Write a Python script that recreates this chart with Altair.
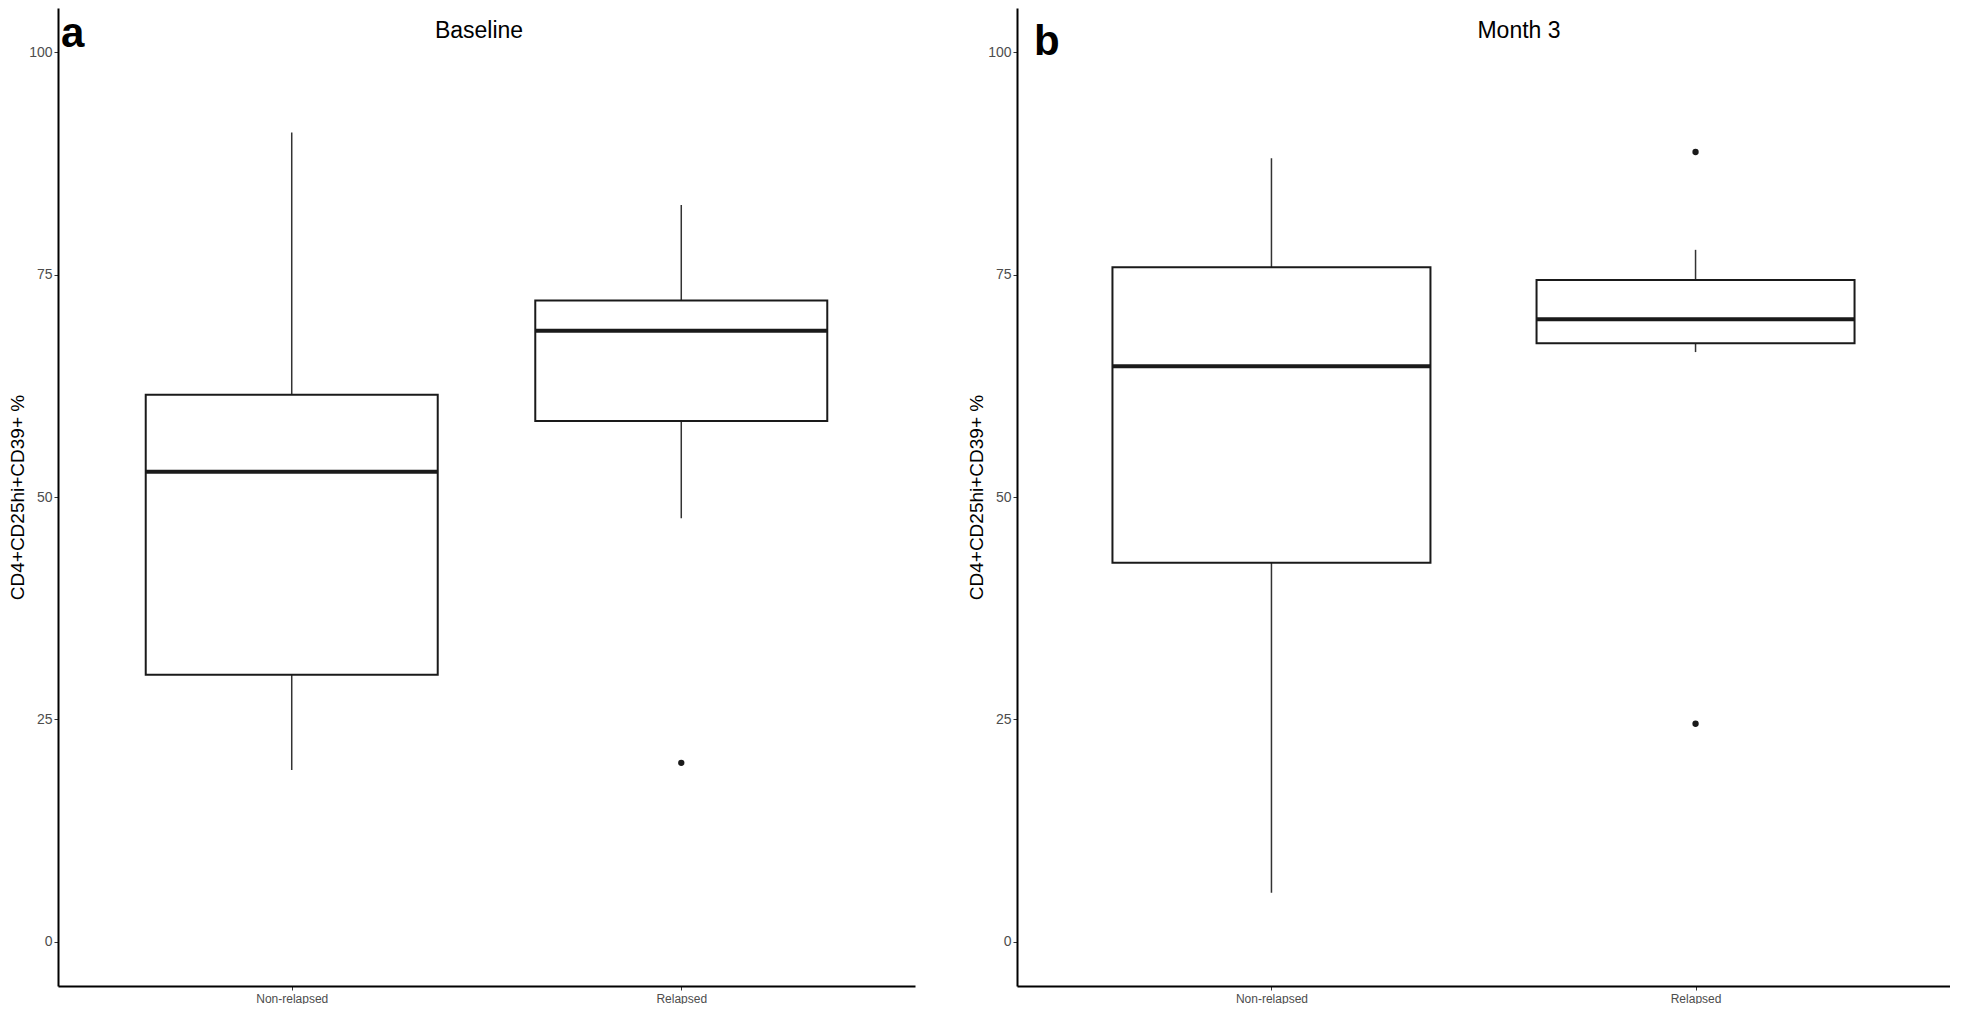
import altair as alt
import pandas as pd

groups = ["Non-relapsed", "Relapsed"]

# Baseline (panel a)
base_lo = [19.3, 47.6]
base_q1 = [30.0, 58.55]
base_med = [52.85, 68.7]
base_q3 = [61.5, 72.1]
base_hi = [91.0, 82.85]
base_out_group = ["Relapsed"]
base_out_val = [20.1]

# Month 3 (panel b)
m3_lo = [5.5, 66.3]
m3_q1 = [42.6, 67.3]
m3_med = [64.7, 70.0]
m3_q3 = [75.85, 74.4]
m3_hi = [88.1, 77.8]
m3_out_group = ["Relapsed", "Relapsed"]
m3_out_val = [88.8, 24.5]

y_ticks = [0, 25, 50, 75, 100]
y_title = "CD4+CD25hi+CD39+ %"

FONT = "Liberation Sans, Arial, sans-serif"
H = 978


def panel(lo, q1, med, q3, hi, og, ov, title, letter, W, box_w, title_x, letter_x, letter_y):
    df = pd.DataFrame({"group": groups, "lo": lo, "q1": q1, "med": med, "q3": q3, "hi": hi})
    out = pd.DataFrame({"group": og, "val": ov})
    xenc = alt.X("group:N", sort=groups,
                 scale=alt.Scale(type="point", padding=0.6),
                 axis=alt.Axis(title=None, labelAngle=0, labelFontSize=12, labelFont=FONT,
                               labelColor="#4d4d4d", tickSize=4, labelPadding=3))
    yscale = alt.Scale(domain=[-5, 105], nice=False, zero=False)
    yaxis = alt.Axis(title=y_title, values=y_ticks, labelFontSize=14, labelFont=FONT,
                     labelColor="#4d4d4d", tickSize=4, labelPadding=2,
                     titleFont=FONT, titleFontSize=19, titleFontWeight="normal",
                     titleColor="#000000", titlePadding=1)
    base = alt.Chart(df)
    whisk = base.mark_rule(color="#333333", strokeWidth=1.5).encode(
        x=xenc, y=alt.Y("lo:Q", scale=yscale, axis=yaxis), y2="hi:Q")
    box = base.mark_bar(size=box_w, fill="white", stroke="#1a1a1a", strokeWidth=2).encode(
        x=alt.X("group:N", sort=groups), y=alt.Y("q1:Q"), y2="q3:Q")
    medl = base.mark_tick(size=box_w, thickness=4, color="#1a1a1a", opacity=1).encode(
        x=alt.X("group:N", sort=groups), y=alt.Y("med:Q"))
    pts = alt.Chart(out).mark_point(filled=True, size=40, color="#1a1a1a", opacity=1).encode(
        x=alt.X("group:N", sort=groups), y=alt.Y("val:Q"))
    ttl = alt.Chart(pd.DataFrame({"t": [title]})).mark_text(
        font=FONT, fontSize=23, color="#000000", align="center", baseline="alphabetic").encode(
        text="t:N", x=alt.value(title_x), y=alt.value(30))
    let = alt.Chart(pd.DataFrame({"t": [letter]})).mark_text(
        font=FONT, fontSize=42, fontWeight="bold", color="#000000",
        align="left", baseline="alphabetic").encode(
        text="t:N", x=alt.value(letter_x), y=alt.value(letter_y))
    return alt.layer(whisk, box, medl, pts, ttl, let).properties(width=W, height=H)


left = panel(base_lo, base_q1, base_med, base_q3, base_hi, base_out_group, base_out_val,
             "Baseline", "a", 857, 292, 421, 3, 39)
right = panel(m3_lo, m3_q1, m3_med, m3_q3, m3_hi, m3_out_group, m3_out_val,
              "Month 3", "b", 933, 318, 502, 17, 47)

chart = alt.hconcat(left, right, spacing=52).configure_view(stroke=None).configure_axis(
    grid=False, domainColor="#000000", domainWidth=2, tickColor="#333333", tickWidth=1
).properties(padding=0, background="white")

chart.save("out.html", embed_options={"renderer": "svg", "actions": False})
